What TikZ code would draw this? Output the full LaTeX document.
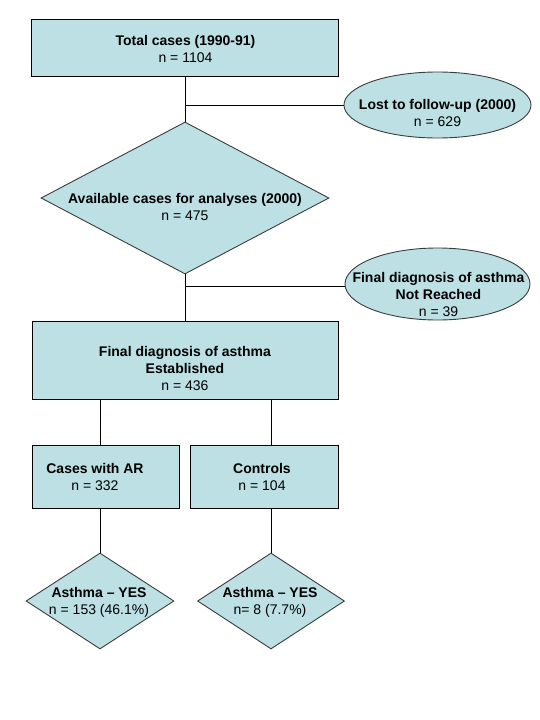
\documentclass[tikz,border=0pt]{standalone}
\usepackage{fontspec}
\setmainfont{Liberation Sans}
\usetikzlibrary{shapes.geometric,calc}
\definecolor{boxfill}{RGB}{188,224,228}
\definecolor{edge}{RGB}{60,60,60}
\tikzset{
  rbox/.style={draw=black,line width=0.9pt,fill=boxfill,rectangle,inner sep=0pt},
  dbox/.style={draw=edge,line width=0.9pt,fill=boxfill,diamond,inner sep=0pt},
  ebox/.style={draw=edge,line width=0.9pt,fill=boxfill,ellipse,inner sep=0pt},
  txt/.style={align=center,inner sep=0pt,font=\fontsize{14}{17}\selectfont},
  conn/.style={draw=black,line width=0.9pt}
}
\begin{document}
\begin{tikzpicture}[x=1pt,y=-1pt]
\useasboundingbox (0,0) rectangle (540,720);
% shapes
\node[rbox,minimum width=307pt,minimum height=57pt] (b1) at (185,47.5) {};
\node[ebox,minimum width=187pt,minimum height=66pt] (lost) at (437.5,105) {};
\node[dbox,minimum width=288pt,minimum height=152pt] (d1) at (185,198) {};
\node[ebox,minimum width=185pt,minimum height=72pt] (nr) at (437.5,284) {};
\node[rbox,minimum width=306pt,minimum height=78pt] (b2) at (185,360) {};
\node[rbox,minimum width=147pt,minimum height=63pt] (b3) at (105.5,476.5) {};
\node[rbox,minimum width=148pt,minimum height=63pt] (b4) at (264,476.5) {};
\node[dbox,minimum width=148pt,minimum height=96pt] (d2) at (100,601) {};
\node[dbox,minimum width=147pt,minimum height=96pt] (d3) at (271,601) {};
% texts
\node[txt] (t1) at (185.5,49) {\textbf{Total cases (1990-91)}\\n = 1104};
\node[txt] (tlost) at (437.5,112.5) {\textbf{Lost to follow-up (2000)}\\n = 629};
\node[txt] (tav) at (185,206.5) {\textbf{Available cases for analyses (2000)}\\n = 475};
\node[txt] (tnr) at (438.5,294.5) {\textbf{Final diagnosis of asthma}\\\textbf{Not Reached}\\n = 39};
\node[txt] (test) at (185,368.5) {\textbf{Final diagnosis of asthma}\\\textbf{Established}\\n = 436};
\node[txt] (tar) at (95,477) {\textbf{Cases with AR}\\n = 332};
\node[txt] (tctl) at (262,477) {\textbf{Controls}\\n = 104};
\node[txt] (ty1) at (99,602.5) {\textbf{Asthma – YES}\\n = 153 (46.1\%)};
\node[txt] (ty2) at (270,602.5) {\textbf{Asthma – YES}\\n= 8 (7.7\%)};
% connectors
\draw[conn] (b1.south) -- (d1.north);
\draw[conn] (b1.south |- lost.west) -- (lost.west);
\draw[conn] (d1.south) -- (b2.north);
\coordinate (j2) at ($(d1.south |- nr.west)+(0,2)$);
\draw[conn] (j2) -- (nr.west |- j2);
\draw[conn] (d2.north |- b2.south) -- (d2.north |- b3.north);
\draw[conn] (d2.north |- b3.south) -- (d2.north);
\draw[conn] (d3.north |- b2.south) -- (d3.north |- b4.north);
\draw[conn] (d3.north |- b4.south) -- (d3.north);
\end{tikzpicture}
\end{document}
